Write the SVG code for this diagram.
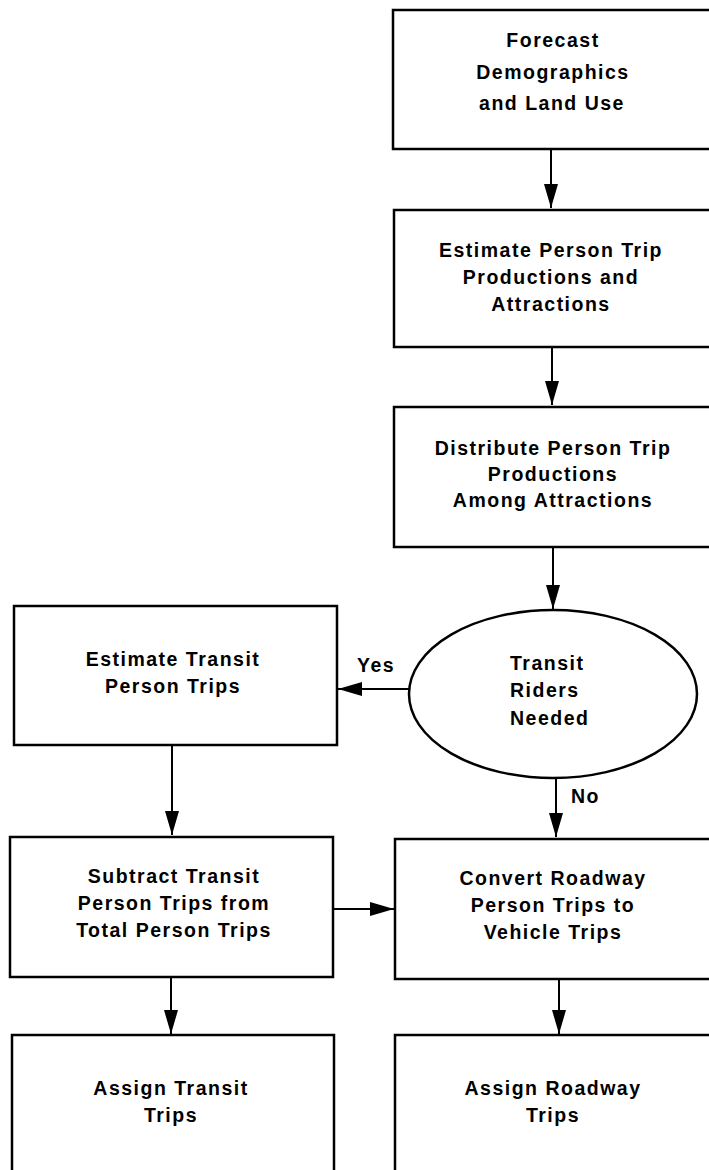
<svg xmlns="http://www.w3.org/2000/svg" width="709" height="1170" viewBox="0 0 709 1170">
<defs>
<marker id="ah" markerUnits="userSpaceOnUse" markerWidth="24" markerHeight="14" refX="24" refY="7" orient="auto">
<path d="M0,0 L24,7 L0,14 z" fill="#000"/>
</marker>
<style>
.box{fill:#fff;stroke:#000;stroke-width:2.5}
.t{font-family:"Liberation Sans",Arial,sans-serif;font-weight:bold;font-size:19.5px;letter-spacing:1.5px;fill:#000}
.c{text-anchor:middle}
.ln{stroke:#000;stroke-width:2;fill:none;marker-end:url(#ah)}
</style>
</defs>
<rect width="709" height="1170" fill="#fff"/>
<g id="connectors">
<line class="ln" x1="551" y1="149" x2="551" y2="208"/>
<line class="ln" x1="552" y1="347" x2="552" y2="405"/>
<line class="ln" x1="553" y1="547" x2="553" y2="609"/>
<line class="ln" x1="409" y1="689" x2="338" y2="689"/>
<line class="ln" x1="556" y1="778" x2="556" y2="837"/>
<line class="ln" x1="172" y1="745" x2="172" y2="835"/>
<line class="ln" x1="333" y1="909" x2="394" y2="909"/>
<line class="ln" x1="171" y1="977" x2="171" y2="1034"/>
<line class="ln" x1="559" y1="979" x2="559" y2="1034"/>
<text class="t" x="357" y="672">Yes</text>
<text class="t" x="571" y="803">No</text>
</g>
<g id="n1">
<rect class="box" x="393" y="10" width="330" height="139"/>
<text class="t c" x="553" y="47">Forecast</text>
<text class="t c" x="553" y="79">Demographics</text>
<text class="t c" x="552" y="110">and Land Use</text>
</g>
<g id="n2">
<rect class="box" x="394" y="210" width="330" height="137"/>
<text class="t c" x="551" y="257">Estimate Person Trip</text>
<text class="t c" x="551" y="284">Productions and</text>
<text class="t c" x="551" y="311">Attractions</text>
</g>
<g id="n3">
<rect class="box" x="394" y="407" width="330" height="140"/>
<text class="t c" x="553" y="455">Distribute Person Trip</text>
<text class="t c" x="553" y="481">Productions</text>
<text class="t c" x="553" y="507">Among Attractions</text>
</g>
<g id="n4">
<ellipse class="box" cx="553" cy="694" rx="144" ry="84"/>
<text class="t" x="510" y="670">Transit</text>
<text class="t" x="510" y="697">Riders</text>
<text class="t" x="510" y="725">Needed</text>
</g>
<g id="n5">
<rect class="box" x="14" y="606" width="323" height="139"/>
<text class="t c" x="173" y="666">Estimate Transit</text>
<text class="t c" x="173" y="693">Person Trips</text>
</g>
<g id="n6">
<rect class="box" x="10" y="837" width="323" height="140"/>
<text class="t c" x="174" y="883">Subtract Transit</text>
<text class="t c" x="174" y="910">Person Trips from</text>
<text class="t c" x="174" y="937">Total Person Trips</text>
</g>
<g id="n7">
<rect class="box" x="395" y="839" width="330" height="140"/>
<text class="t c" x="553" y="885">Convert Roadway</text>
<text class="t c" x="553" y="912">Person Trips to</text>
<text class="t c" x="553" y="939">Vehicle Trips</text>
</g>
<g id="n8">
<rect class="box" x="12" y="1035" width="322" height="150"/>
<text class="t c" x="171" y="1095">Assign Transit</text>
<text class="t c" x="171" y="1122">Trips</text>
</g>
<g id="n9">
<rect class="box" x="395" y="1035" width="330" height="150"/>
<text class="t c" x="553" y="1095">Assign Roadway</text>
<text class="t c" x="553" y="1122">Trips</text>
</g>
</svg>
